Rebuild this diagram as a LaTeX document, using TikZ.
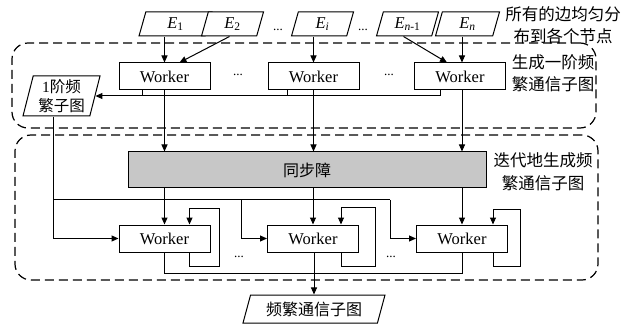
\documentclass[tikz,border=0pt]{standalone}
\usepackage{fontspec}
\setmainfont{Liberation Serif}
\newfontfamily\cjk{Noto Sans CJK SC}
\usetikzlibrary{shapes.geometric,arrows.meta,calc}
\newcommand\Eit[1]{\textit{E}\textsubscript{#1}}
\begin{document}
\begin{tikzpicture}[x=1pt,y=-1pt,
 worker/.style={draw,line width=1pt,fill=white,minimum width=91pt,minimum height=27pt,inner sep=0pt,font=\fontsize{16.5}{19}\selectfont},
 par/.style={draw,line width=1pt,fill=white,trapezium,trapezium left angle=63,trapezium right angle=117,trapezium stretches body,inner sep=0pt,minimum height=24pt,font=\fontsize{16.5}{19}\selectfont},
 arr/.style={line width=1pt,-{Triangle[length=7pt,width=6pt]}},
 ln/.style={line width=1pt},
 dashbox/.style={draw,line width=1.2pt,dash pattern=on 9pt off 5pt,rounded corners=16pt,inner sep=0pt},
 lbl/.style={align=center,font=\cjk\fontsize{16.5}{22.5}\selectfont,inner sep=0pt},
 dotsn/.style={font=\fontsize{13}{14}\selectfont,inner sep=0pt}
]
\useasboundingbox (0,0) rectangle (625,329);

% dashed groups
\node[dashbox,minimum width=584pt,minimum height=85pt] (g1) at (304,85.5) {};
\node[dashbox,minimum width=583pt,minimum height=145pt] (g2) at (306.5,207.5) {};

% inputs
\node[par,minimum width=73pt] (e1) at (175.5,24) {\Eit{1}};
\node[par,minimum width=62pt] (e2) at (232.5,24) {\Eit{2}};
\node[par,minimum width=62pt] (ei) at (322.5,24) {\Eit{\textit{i}}};
\node[par,minimum width=62pt] (en1) at (407.5,24) {\Eit{\textit{n}-1}};
\node[par,minimum width=64pt] (en) at (467.5,24) {\Eit{\textit{n}}};
\node[dotsn] (d1) at (278,30) {...};
\node[dotsn] (d2) at (363,30) {...};

\node[lbl] (lab1) at (563,25) {所有的边均匀分\\布到各个节点};

% first stage workers
\node[worker] (w1) at (164.5,76.5) {Worker};
\node[worker] (w2) at (313.5,76.5) {Worker};
\node[worker] (w3) at (460,76.5) {Worker};
\node[dotsn] (d3) at (238,75) {...};
\node[dotsn] (d4) at (389,75) {...};
\node[lbl] (lab2) at (553,73) {生成一阶频\\繁通信子图};

\node[par,trapezium left angle=73,trapezium right angle=107,minimum width=77pt,minimum height=40pt,align=center,font=\cjk\fontsize{15.5}{19}\selectfont] (one) at (61.5,96) {{\normalfont 1}阶频\\繁子图};

\draw[arr] (e1.south -| w1.north) -- (w1.north);
\draw[arr] ([xshift=-3pt]e2.south) -- ([xshift=15pt]w1.north);
\draw[arr] (ei.south -| w2.north) -- (w2.north);
\draw[arr] ([xshift=-4pt]en1.south) -- ([xshift=-13pt]w3.north);
\draw[arr] ([xshift=2pt]en.south -| w3.north) -- ([xshift=2pt]w3.north);

\draw[arr] ([xshift=-20pt]w3.south) |- (one.east);
\draw[ln] ([xshift=-22pt]w1.south) -- ([xshift=-22pt]w1.south |- one.east);
\draw[ln] ([xshift=-26pt]w2.south) -- ([xshift=-26pt]w2.south |- one.east);

% barrier
\node[draw,line width=1pt,fill=black!22,minimum width=358pt,minimum height=36pt,inner sep=0pt,font=\cjk\fontsize{16}{19}\selectfont] (bar) at (307,170) {同步障};
\node[lbl] (lab3) at (543,171.5) {迭代地生成频\\繁通信子图};

\draw[arr] (w1.south) -- (w1.south |- bar.north);
\draw[arr] (w2.south) -- (w2.south |- bar.north);
\draw[arr] ([xshift=2pt]w3.south) -- ([xshift=2pt]w3.south |- bar.north);

% second stage workers
\node[worker] (wa) at (164.5,238.5) {Worker};
\node[worker] (wb) at (313,238.5) {Worker};
\node[worker] (wc) at (462,238.5) {Worker};
\node[dotsn] (d5) at (239,257) {...};
\node[dotsn] (d6) at (391,257) {...};

\draw[arr] (bar.south -| wa.north) -- (wa.north);
\draw[arr] (bar.south -| wb.north) -- (wb.north);
\draw[arr] (bar.south -| wc.north) -- (wc.north);

\coordinate (split) at (53,200);
\coordinate (cbb) at (241,200);
\coordinate (cbr) at (390,200);
\draw[arr] ([xshift=-8.5pt]one.south) |- (wa.west);
\draw[ln] (split) -- (cbr);
\draw[arr] (cbr) |- (wc.west);
\draw[arr] (cbb) |- (wb.west);

% self loops
\draw[arr] ([xshift=25pt]wa.south) -- ++(0,13.5) -- ++(30,0) -- ++(0,-58) -- ++(-30,0) -- ([xshift=25pt]wa.north);
\draw[arr] ([xshift=28pt]wb.south) -- ++(0,14) -- ++(34,0) -- ++(0,-59) -- ++(-34,0) -- ([xshift=28pt]wb.north);
\draw[arr] ([xshift=31pt]wc.south) -- ++(0,13.5) -- ++(27,0) -- ++(0,-57) -- ++(-27,0) -- ([xshift=31pt]wc.north);

% output
\node[par,minimum width=142pt,minimum height=28pt,font=\cjk\fontsize{16}{19}\selectfont] (out) at (314,309) {频繁通信子图};
\draw[ln] (wa.south) -- ++(0,20.5) -| (wc.south);
\draw[arr] ([xshift=1pt]wb.south) -- ([xshift=1pt]wb.south |- out.north);
\end{tikzpicture}
\end{document}
